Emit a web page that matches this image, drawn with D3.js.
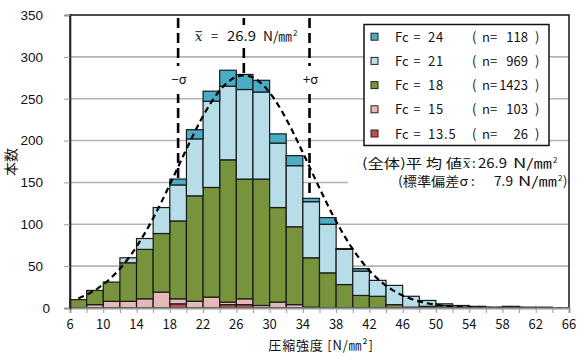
<!DOCTYPE html>
<html>
<head>
<meta charset="utf-8">
<script src="https://cdn.jsdelivr.net/npm/d3@7/dist/d3.min.js"></script>
<style>
  body { margin: 0; background: #fff; }
  svg { display: block; }
  text { font-family: "Noto Sans CJK JP", "Noto Sans", sans-serif; fill: #111; }
</style>
</head>
<body>
<svg id="chart" width="580" height="356"></svg>
<script>
// ------- data -------
const binStart = [6, 8, 10, 12, 14, 16, 18, 20, 22, 24, 26, 28, 30, 32, 34, 36, 38, 40, 42, 44, 46, 48, 50, 52, 54, 56, 58, 60, 62, 64];
const fc135 = [0, 0, 0, 0, 0, 0, 5, 0, 0, 4, 4, 0, 0, 0, 0, 0, 0, 0, 0, 0, 0, 0, 0, 0, 0, 0, 0, 0, 0, 0];
const fc15  = [0, 4, 8, 8, 11, 19, 6, 8, 13, 3, 7, 3, 7, 4, 1, 0, 0, 0, 0, 0, 0, 0, 0, 0, 0, 0, 0, 0, 0, 0];
const fc18  = [10, 17, 23, 46, 59, 70, 93, 126, 131, 170, 143, 151, 113, 93, 59, 42, 28, 15, 14, 4, 1, 2, 3, 1, 0, 0, 0, 0, 0, 0];
const fc21  = [0, 0, 0, 6, 13, 31, 43, 68, 103, 88, 107, 104, 77, 73, 67, 58, 42, 29, 19, 23, 13, 7, 2, 2, 2, 1, 2, 1, 1, 0];
const fc24  = [0, 0, 0, 0, 0, 0, 7, 11, 12, 19, 18, 14, 11, 12, 4, 8, 1, 3, 0, 0, 0, 0, 0, 0, 0, 0, 0, 0, 0, 0];

// stacking order, bottom to top
const seriesKeys = ["fc135", "fc15", "fc18", "fc21", "fc24"];
const seriesColor = { fc135: "#c0504d", fc15: "#e6b9b8", fc18: "#77933c", fc21: "#b7dde8", fc24: "#4bacc6" };

// legend, top to bottom
const legendKeys = ["fc24", "fc21", "fc18", "fc15", "fc135"];
const legendFc = ["24", "21", "18", "15", "13.5"];
const legendN = ["118", "969", "1423", "103", "26"];

const xTicks = [6, 10, 14, 18, 22, 26, 30, 34, 38, 42, 46, 50, 54, 58, 62, 66];
const yTicks = [0, 50, 100, 150, 200, 250, 300, 350];

const meanVal = 26.9;   // N/mm2
const sdVal = 7.9;
const curvePeak = 278;  // height of the fitted curve at the mean

// ------- layout -------
const svg = d3.select("#chart");
const plotL = 70, plotR = 569, plotT = 15, plotB = 308;

const x = d3.scaleLinear().domain([6, 66]).range([plotL, plotR]);
const y = d3.scaleLinear().domain([0, 350]).range([plotB, plotT]);

const rows = binStart.map((b, i) => ({
	bin: b, fc135: fc135[i], fc15: fc15[i], fc18: fc18[i], fc21: fc21[i], fc24: fc24[i]
}));
const stacked = d3.stack().keys(seriesKeys)(rows);

// small helper for a text piece squeezed/stretched to a given width
function piece(parent, px, py, str, size, len) {
	const t = parent.append("text").attr("x", px).attr("y", py)
		.style("font-size", size + "px").attr("xml:space", "preserve").text(str);
	if (len) t.attr("textLength", len).attr("lengthAdjust", "spacingAndGlyphs");
	return t;
}
function xbar(parent, px, py, size) {
	// italic x with a bar over it
	parent.append("text").attr("x", px).attr("y", py)
		.style("font-size", size + "px").style("font-style", "italic")
		.style("font-family", "'DejaVu Serif', serif").text("x");
	parent.append("line").attr("x1", px + 0.5).attr("x2", px + 7)
		.attr("y1", py - size * 0.72).attr("y2", py - size * 0.72)
		.attr("stroke", "#111").attr("stroke-width", 0.9);
}

// grid
svg.append("g")
	.selectAll("line")
	.data(yTicks.filter(t => t > 0 && t < 350))
	.join("line")
	.attr("x1", plotL).attr("x2", plotR)
	.attr("y1", d => y(d)).attr("y2", d => y(d))
	.attr("stroke", "#b4b4b4").attr("stroke-width", 1.6);

// ±sigma and mean lines (behind the bars)
const dashed = svg.append("g").attr("stroke", "#000").attr("stroke-width", 2.6)
	.attr("stroke-dasharray", "10,5").attr("fill", "none");
[meanVal - sdVal, meanVal + sdVal].forEach(v => {
	dashed.append("line").attr("x1", x(v)).attr("x2", x(v)).attr("y1", plotT + 3).attr("y2", plotB);
});
dashed.append("line").attr("x1", x(meanVal)).attr("x2", x(meanVal)).attr("y1", plotT + 3).attr("y2", y(curvePeak) - 2);

// bars
svg.append("g")
	.selectAll("g")
	.data(stacked)
	.join("g")
	.attr("fill", d => seriesColor[d.key])
	.selectAll("rect")
	.data(d => d.filter(s => s[1] - s[0] > 0))
	.join("rect")
	.attr("x", d => x(d.data.bin))
	.attr("width", x(binStart[1]) - x(binStart[0]))
	.attr("y", d => y(d[1]))
	.attr("height", d => y(d[0]) - y(d[1]))
	.attr("stroke", "#1a1a1a").attr("stroke-width", 1.2);

// fitted normal curve
const curveXs = d3.range(7, 66.01, 0.25);
const curve = d3.line()
	.x(d => x(d))
	.y(d => y(curvePeak * Math.exp(-((d - meanVal) ** 2) / (2 * sdVal * sdVal))));
svg.append("path")
	.attr("d", curve(curveXs))
	.attr("fill", "none").attr("stroke", "#000")
	.attr("stroke-width", 2.2).attr("stroke-dasharray", "6,4");

// frame
svg.append("rect")
	.attr("x", plotL).attr("y", plotT).attr("width", plotR - plotL).attr("height", plotB - plotT)
	.attr("fill", "none").attr("stroke", "#222").attr("stroke-width", 1.6);

// axes
const xAxis = svg.append("g").attr("transform", `translate(0,${plotB})`)
	.call(d3.axisBottom(x).tickValues(d3.range(6, 66.1, 2)).tickSize(5).tickFormat(""));
xAxis.select(".domain").attr("stroke", "#999").attr("stroke-width", 2);
xAxis.selectAll(".tick line").attr("stroke", "#999");
svg.append("g")
	.selectAll("text")
	.data(xTicks)
	.join("text")
	.attr("x", d => x(d)).attr("y", 329)
	.attr("text-anchor", "middle")
	.style("font-size", "13px")
	.text(d => d);

const yAxis = svg.append("g").attr("transform", `translate(${plotL},0)`)
	.call(d3.axisLeft(y).tickValues(yTicks).tickSize(6).tickPadding(21));
yAxis.select(".domain").attr("stroke", "#222").attr("stroke-width", 1.6);
yAxis.selectAll(".tick line").attr("stroke", "#999");
yAxis.selectAll(".tick text")
	.style("font-family", "'Liberation Sans Narrow', 'Liberation Sans', sans-serif")
	.style("font-size", "13.5px").attr("fill", "#111");
yAxis.selectAll(".tick").filter(d => d === 0).select("text").attr("x", -20);

// axis titles
svg.append("text")
	.attr("x", 321).attr("y", 350)
	.attr("text-anchor", "middle")
	.style("font-size", "13px").style("letter-spacing", "0.8px")
	.text("圧縮強度 [N/㎜²]");
svg.append("text")
	.attr("transform", "translate(16,162) rotate(-90)")
	.attr("text-anchor", "middle")
	.style("font-size", "14px")
	.text("本数");

// mean and sigma labels
svg.append("rect").attr("x", 190).attr("y", 25).attr("width", 114).attr("height", 22).attr("fill", "#fff");
const mg = svg.append("g");
xbar(mg, 195, 41, 13);
piece(mg, 211, 41, "=", 13);
piece(mg, 227, 41, String(meanVal), 13, 29);
piece(mg, 263, 41, "N/㎜", 13, 29);
piece(mg, 293, 36, "2", 8);

[[meanVal - sdVal, "−σ"], [meanVal + sdVal, "+σ"]].forEach(([v, s]) => {
	svg.append("rect").attr("x", x(v) - 10).attr("y", 66).attr("width", 20).attr("height", 28).attr("fill", "#fff");
	svg.append("text").attr("x", x(v) + 1).attr("y", 84).attr("text-anchor", "middle")
		.style("font-size", "13px").text(s);
});

// legend
const lg = svg.append("g");
lg.append("rect").attr("x", 364).attr("y", 24.5).attr("width", 185).attr("height", 121)
	.attr("fill", "#fff").attr("stroke", "#111").attr("stroke-width", 1.5);
legendKeys.forEach((k, i) => {
	const cy = 36.7 + i * 24.2;
	lg.append("rect").attr("x", 371).attr("y", cy - 3.5).attr("width", 7).attr("height", 7)
		.attr("fill", seriesColor[k]).attr("stroke", "#222").attr("stroke-width", 1);
	const row = lg.append("g").style("font-size", "13px");
	row.append("text").attr("x", 395).attr("y", cy + 5).text("Fc");
	row.append("text").attr("x", 417).attr("y", cy + 5).attr("text-anchor", "middle").text("=");
	row.append("text").attr("x", 428).attr("y", cy + 5).style("letter-spacing", "0.8px").text(legendFc[i]);
	row.append("text").attr("x", 472).attr("y", cy + 5).text("(");
	row.append("text").attr("x", 482).attr("y", cy + 5).text("n=");
	row.append("text").attr("x", 528).attr("y", cy + 5).attr("text-anchor", "end").text(legendN[i]);
	row.append("text").attr("x", 535).attr("y", cy + 5).text(")");
});

// summary text
svg.append("rect").attr("x", 348).attr("y", 150).attr("width", 220).attr("height", 42).attr("fill", "#fff");
const sg = svg.append("g");
piece(sg, 362, 168, "(全体)平 均 値", 13, 100);
xbar(sg, 463, 168, 13);
piece(sg, 472, 168, ":", 13);
piece(sg, 478, 168, String(meanVal), 13, 29);
piece(sg, 513, 168, "N/㎜", 13, 39);
piece(sg, 553, 163, "2", 8);

piece(sg, 398, 186, "(標準偏差σ", 13, 70);
piece(sg, 471, 186, ":", 13);
piece(sg, 494, 186, String(sdVal), 13, 19);
piece(sg, 518, 186, "N/㎜", 13, 39);
piece(sg, 558, 181, "2", 8);
piece(sg, 563, 186, ")", 13);
</script>
</body>
</html>
